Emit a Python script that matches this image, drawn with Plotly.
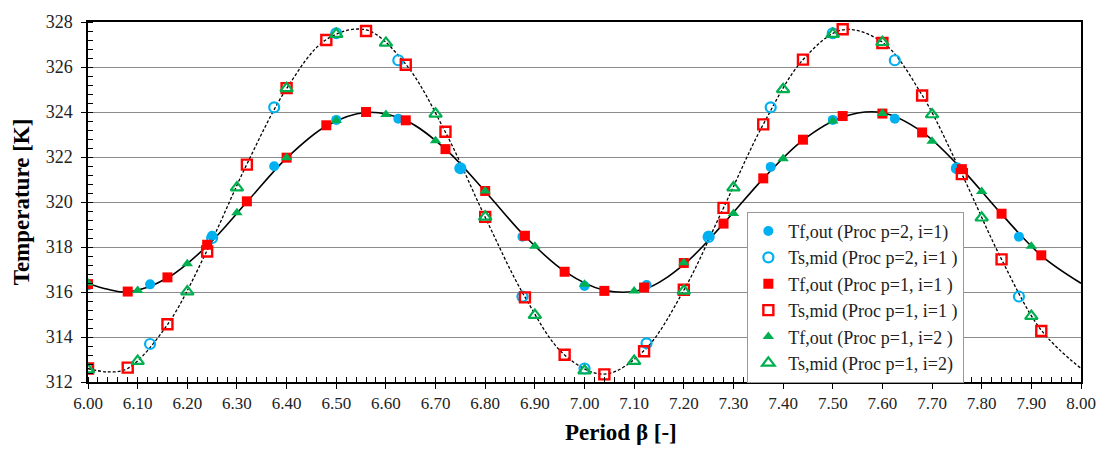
import plotly.graph_objects as go

# ---------------- data ----------------
# Proc p=2, i=1 (step 0.125)
x_p2 = [6.000, 6.125, 6.250, 6.375, 6.500, 6.625, 6.750, 6.875,
        7.000, 7.125, 7.250, 7.375, 7.500, 7.625, 7.750, 7.875]
tf_p2 = [316.30, 316.34, 318.50, 321.59, 323.65, 323.70, 321.49, 318.46,
         316.27, 316.31, 318.50, 321.56, 323.65, 323.70, 321.52, 318.46]
ts_p2 = [312.60, 313.69, 318.40, 324.21, 327.50, 326.30, 321.50, 315.80,
         312.60, 313.72, 318.45, 324.21, 327.50, 326.30, 321.50, 315.80]

# Proc p=1, i=1 (step 0.08)
x_p1i1 = [6.00, 6.08, 6.16, 6.24, 6.32, 6.40, 6.48, 6.56, 6.64, 6.72, 6.80, 6.88, 6.96,
          7.04, 7.12, 7.20, 7.28, 7.36, 7.44, 7.52, 7.60, 7.68, 7.76, 7.84, 7.92]
tf_p1i1 = [316.35, 316.02, 316.65, 318.10, 320.03, 321.97, 323.41, 324.00, 323.63, 322.35,
           320.49, 318.50, 316.90, 316.05, 316.20, 317.29, 319.04, 321.05, 322.77, 323.82,
           323.93, 323.09, 321.46, 319.48, 317.63]
ts_p1i1 = [312.60, 312.64, 314.57, 317.80, 321.66, 325.06, 327.20, 327.60, 326.10, 323.12,
           319.34, 315.76, 313.21, 312.34, 313.37, 316.10, 319.74, 323.45, 326.33, 327.68,
           327.07, 324.73, 321.24, 317.45, 314.27]

# Proc p=1, i=2 (step 0.1)
x_p1i2 = [6.0, 6.1, 6.2, 6.3, 6.4, 6.5, 6.6, 6.7, 6.8, 6.9,
          7.0, 7.1, 7.2, 7.3, 7.4, 7.5, 7.6, 7.7, 7.8, 7.9]
tf_p1i2 = [316.40, 316.07, 317.26, 319.52, 321.97, 323.62, 323.89, 322.72, 320.49, 318.03,
           316.34, 316.05, 317.30, 319.49, 321.92, 323.60, 323.93, 322.70, 320.47, 318.03]
ts_p1i2 = [312.55, 312.93, 316.02, 320.64, 325.05, 327.46, 327.07, 323.92, 319.34, 314.97,
           312.50, 312.93, 316.05, 320.64, 325.01, 327.46, 327.10, 323.89, 319.30, 314.93]

# Continuous curves
line_x = [6.00, 6.04, 6.08, 6.16, 6.24, 6.32, 6.40, 6.48, 6.56, 6.64, 6.72, 6.80, 6.88, 6.96,
          7.04, 7.12, 7.20, 7.28, 7.36, 7.44, 7.52, 7.60, 7.68, 7.76, 7.84, 7.92, 8.00]
tf_line = [316.38, 316.12, 316.00, 316.62, 318.05, 320.00, 321.95, 323.38, 323.98, 323.62, 322.35,
           320.47, 318.48, 316.92, 316.08, 316.12, 317.22, 319.04, 321.04, 322.75, 323.78,
           323.97, 323.12, 321.46, 319.46, 317.62, 316.39]
ts_line = [312.60, 312.45, 312.60, 314.55, 317.85, 321.68, 325.04, 327.22, 327.65, 326.12, 323.10,
           319.32, 315.78, 313.20, 312.35, 313.40, 316.08, 319.74, 323.45, 326.32, 327.65,
           327.10, 324.75, 321.24, 317.45, 314.30, 312.60]

x_ticks = [6.0 + 0.1 * i for i in range(21)]
x_tick_labels = [f"{v:.2f}" for v in x_ticks]
y_ticks = list(range(312, 329, 2))
x_title = "<b>Period β [-]</b>"
y_title = "<b>Temperature [K]</b>"

BLUE = "#00B0F0"
RED = "#FF0000"
GREEN = "#00B050"
FONT = "'Liberation Serif', 'Times New Roman', Times, serif"

fig = go.Figure()

fig.add_trace(go.Scatter(x=line_x, y=tf_line, mode="lines", line=dict(color="black", width=1.6, shape="spline", smoothing=1.0),
                         showlegend=False, hoverinfo="skip"))
fig.add_trace(go.Scatter(x=line_x, y=ts_line, mode="lines", line=dict(color="black", width=1.3, dash="3px,2px", shape="spline", smoothing=1.0),
                         showlegend=False, hoverinfo="skip"))

fig.add_trace(go.Scatter(x=x_p2, y=tf_p2, mode="markers", name="Tf,out (Proc p=2, i=1)",
                         marker=dict(symbol="circle", size=10, color=BLUE)))
fig.add_trace(go.Scatter(x=x_p2, y=ts_p2, mode="markers", name="Ts,mid (Proc p=2, i=1 )",
                         marker=dict(symbol="circle-open", size=10, color=BLUE, line=dict(width=2.2, color=BLUE))))
fig.add_trace(go.Scatter(x=x_p1i1, y=tf_p1i1, mode="markers", name="Tf,out (Proc p=1, i=1 )",
                         marker=dict(symbol="square", size=10, color=RED)))
fig.add_trace(go.Scatter(x=x_p1i1, y=ts_p1i1, mode="markers", name="Ts,mid (Proc p=1, i=1 )",
                         marker=dict(symbol="square-open", size=10, color=RED, line=dict(width=2.4, color=RED))))
fig.add_trace(go.Scatter(x=x_p1i2, y=tf_p1i2, mode="markers", name="Tf,out (Proc p=1, i=2 )",
                         marker=dict(symbol="triangle-up", size=10, color=GREEN)))
fig.add_trace(go.Scatter(x=x_p1i2, y=ts_p1i2, mode="markers", name="Ts,mid (Proc p=1, i=2)",
                         marker=dict(symbol="triangle-up-open", size=11, color=GREEN, line=dict(width=2.2, color=GREEN))))

fig.add_annotation(text=x_title, xref="paper", yref="paper", x=0.537, y=-0.139,
                   xanchor="center", yanchor="middle", showarrow=False,
                   font=dict(family=FONT, size=23, color="black"))

fig.update_layout(
    width=1108, height=449,
    margin=dict(l=88, r=18, t=16, b=67),
    paper_bgcolor="white", plot_bgcolor="white",
    font=dict(family=FONT, size=17, color="#222"),
    legend=dict(x=0.664, y=0.473, xanchor="left", yanchor="top",
                bgcolor="white", bordercolor="#999", borderwidth=1,
                font=dict(family=FONT, size=18, color="#222"),
                tracegroupgap=0, itemwidth=30),
    xaxis=dict(range=[6.0, 8.0], tickvals=x_ticks, ticktext=x_tick_labels,
               showgrid=False, zeroline=False,
               showline=True, linecolor="black", linewidth=1.5, mirror=True,
               ticks="outside", ticklen=5, tickcolor="black",
               minor=dict(dtick=0.02, ticks="inside", ticklen=5, tickcolor="black", showgrid=False),
               tickfont=dict(family=FONT, size=17, color="#222")),
    yaxis=dict(range=[312, 328], tickvals=y_ticks,
               showgrid=True, gridcolor="#8c8c8c", gridwidth=1, zeroline=False,
               showline=True, linecolor="black", linewidth=1.5, mirror=True,
               ticks="outside", ticklen=5, tickcolor="black", ticklabelstandoff=5,
               minor=dict(dtick=0.4, ticks="inside", ticklen=5, tickcolor="black", showgrid=False),
               tickfont=dict(family=FONT, size=18, color="#222"),
               title=dict(text=y_title, font=dict(family=FONT, size=23, color="black"), standoff=10)),
)

fig.write_html("out.html")
